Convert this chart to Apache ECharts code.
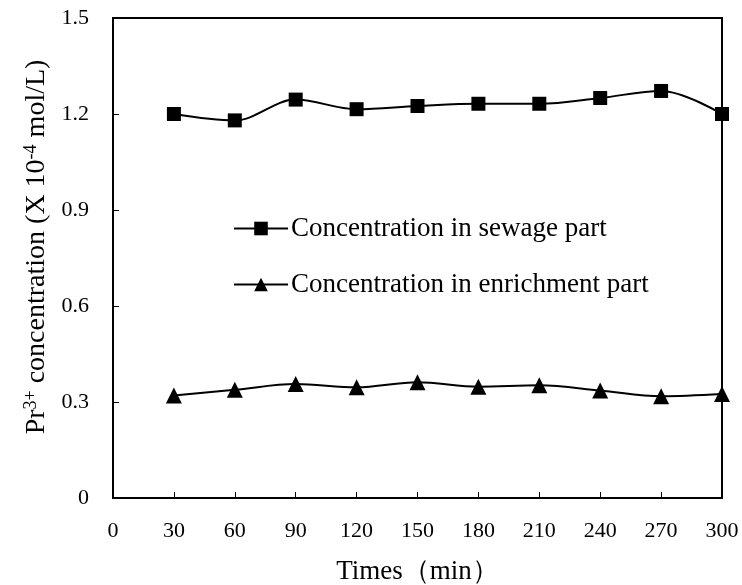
<!DOCTYPE html>
<html>
<head>
<meta charset="utf-8">
<script src="https://cdn.jsdelivr.net/npm/echarts@6/dist/echarts.min.js"></script>
<style>
html, body { margin: 0; padding: 0; background: #fff; }
#chart { width: 742px; height: 585px; }
</style>
</head>
<body>
<div id="chart"></div>
<script>
// 数据
var times = [30, 60, 90, 120, 150, 180, 210, 240, 270, 300];
var sewage = [1.20, 1.18, 1.245, 1.215, 1.225, 1.232, 1.232, 1.25, 1.272, 1.20];
var enrichment = [0.32, 0.338, 0.356, 0.346, 0.362, 0.348, 0.352, 0.336, 0.318, 0.325];
var seriesNames = ['Concentration in sewage part', 'Concentration in enrichment part'];

var font = 'Liberation Serif, Times New Roman, serif';

var pair = function (xs, ys) {
	var res = [];
	for (var i = 0; i < xs.length; i++) {
		res.push([xs[i], ys[i]]);
	}
	return res;
};

var chart = echarts.init(document.getElementById('chart'));
chart.setOption({
	backgroundColor: '#fff',
	animation: false,
	textStyle: { fontFamily: font, color: '#000' },
	grid: {
		left: 113, right: 20, top: 18, bottom: 87,
		outerBoundsMode: 'none',
		containLabel: false,
		show: true, borderColor: '#000', borderWidth: 2
	},
	legend: {
		orient: 'vertical',
		left: 228,
		top: 210,
		itemWidth: 54,
		itemHeight: 17,
		itemGap: 29,
		data: seriesNames,
		textStyle: { fontFamily: font, fontSize: 27, color: '#000', padding: [0, 0, 0, -2] }
	},
	xAxis: {
		type: 'value',
		min: 0, max: 300, interval: 30,
		name: 'Times（min）',
		nameLocation: 'middle',
		nameGap: 60,
		nameTextStyle: { fontFamily: font, fontSize: 27, color: '#000' },
		axisLine: { lineStyle: { color: '#000', width: 2 } },
		axisTick: { inside: true, length: 6, lineStyle: { color: '#000' } },
		axisLabel: { margin: 22, fontSize: 22, color: '#000', fontFamily: font },
		splitLine: { show: false }
	},
	yAxis: {
		type: 'value',
		min: 0, max: 1.5, interval: 0.3,
		name: 'Pr{sup|3+} concentration (X 10{sup|-4} mol/L)',
		nameLocation: 'middle',
		nameGap: 58,
		nameRotate: 90,
		nameTextStyle: {
			fontFamily: font, fontSize: 28, color: '#000',
			padding: [0, 0, 0, 22],
			rich: {
				sup: { fontSize: 18, verticalAlign: 'top', padding: [0, 0, 10, 0], fontFamily: font, color: '#000' }
			}
		},
		axisLine: { lineStyle: { color: '#000', width: 2 } },
		axisTick: { inside: true, length: 6, lineStyle: { color: '#000' } },
		axisLabel: {
			margin: 24, fontSize: 22, color: '#000', fontFamily: font,
			formatter: function (v) { return v === 0 ? '0' : v.toFixed(1); }
		},
		splitLine: { show: false }
	},
	series: [
		{
			name: seriesNames[0],
			type: 'line',
			data: pair(times, sewage),
			smooth: 0.35,
			symbol: 'rect',
			symbolSize: 14,
			lineStyle: { color: '#000', width: 2 },
			itemStyle: { color: '#000' }
		},
		{
			name: seriesNames[1],
			type: 'line',
			data: pair(times, enrichment),
			smooth: 0.35,
			symbol: 'triangle',
			symbolSize: 16,
			lineStyle: { color: '#000', width: 2 },
			itemStyle: { color: '#000' }
		}
	]
});
</script>
</body>
</html>
